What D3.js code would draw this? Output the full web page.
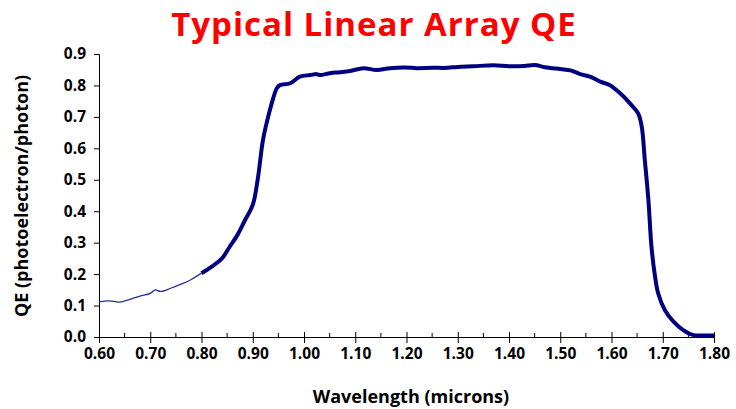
<!DOCTYPE html>
<html>
<head>
  <meta charset="utf-8">
  <title>Typical Linear Array QE</title>
  <script src="https://d3js.org/d3.v7.min.js"></script>
  <style>
    body { margin: 0; background: #fff; }
    svg text { font-family: "Open Sans", "DejaVu Sans", sans-serif; font-weight: bold; }
    .axis path, .axis line { stroke: #000; stroke-width: 1; }
    .axis text { font-size: 15.5px; fill: #000; }
  </style>
</head>
<body>
<div id="chart"></div>
<script>
"use strict"

// valores (comprimento de onda em micra, QE)
var thinWave = [0.60, 0.62, 0.64, 0.66, 0.68, 0.70, 0.71, 0.72, 0.74, 0.76, 0.78, 0.80];
var thinQE   = [0.112, 0.115, 0.111, 0.120, 0.130, 0.139, 0.150, 0.145, 0.155, 0.168, 0.183, 0.203];

var thickWave = [0.80, 0.82, 0.84, 0.855, 0.87, 0.885, 0.90, 0.91, 0.92, 0.93, 0.94, 0.947, 0.953,
                 0.973, 0.992, 1.012, 1.025, 1.031, 1.051, 1.07, 1.09, 1.116, 1.142, 1.168, 1.197,
                 1.22, 1.25, 1.28, 1.30, 1.33, 1.37, 1.40, 1.43, 1.45, 1.47, 1.50, 1.52, 1.539,
                 1.558, 1.578, 1.597, 1.617, 1.636, 1.652, 1.659, 1.665, 1.672, 1.678, 1.685, 1.691,
                 1.704, 1.721, 1.74, 1.76, 1.78, 1.80];
var thickQE   = [0.203, 0.224, 0.250, 0.287, 0.324, 0.372, 0.420, 0.505, 0.627, 0.700, 0.760, 0.791, 0.801,
                 0.807, 0.828, 0.833, 0.836, 0.833, 0.839, 0.842, 0.846, 0.855, 0.849, 0.855, 0.857,
                 0.855, 0.856, 0.856, 0.859, 0.861, 0.864, 0.861, 0.862, 0.865, 0.858, 0.852, 0.848, 0.836,
                 0.828, 0.812, 0.801, 0.775, 0.743, 0.711, 0.669, 0.563, 0.436, 0.287, 0.192, 0.139,
                 0.086, 0.049, 0.022, 0.006, 0.005, 0.005];

var xTicks = [0.60, 0.70, 0.80, 0.90, 1.00, 1.10, 1.20, 1.30, 1.40, 1.50, 1.60, 1.70, 1.80];
var xMinorTicks = [0.65, 0.75, 0.85, 0.95, 1.05, 1.15, 1.25, 1.35, 1.45, 1.55, 1.65, 1.75];
var yTicks = [0.0, 0.1, 0.2, 0.3, 0.4, 0.5, 0.6, 0.7, 0.8, 0.9];

var larguraSVG = 736, alturaSVG = 409;
var margin = {top: 54, right: 22, bottom: 72, left: 99},
    larguraVis = larguraSVG - margin.left - margin.right,
    alturaVis = alturaSVG - margin.top - margin.bottom;

var svg = d3.select('#chart').append('svg')
    .attr('width', larguraSVG)
    .attr('height', alturaSVG);

var g = svg.append('g')
    .attr('transform', 'translate(' + margin.left + ',' + margin.top + ')');

var x = d3.scaleLinear().domain([0.6, 1.8]).range([0, larguraVis]);
var y = d3.scaleLinear().domain([0, 0.9]).range([alturaVis, 0]);

// titulo
svg.append('text')
    .attr('x', 374).attr('y', 36)
    .attr('text-anchor', 'middle')
    .style('font-size', '33px')
    .style('letter-spacing', '1px')
    .style('fill', '#ff0000')
    .text('Typical Linear Array QE');

// eixo y
g.append('g').attr('class', 'axis')
    .call(d3.axisLeft(y).tickValues(yTicks).tickFormat(d3.format('.1f')).tickSizeOuter(0).tickSize(5).tickPadding(8));

// eixo x: ticks maiores cruzam o eixo, menores para dentro
var xAxis = g.append('g').attr('class', 'axis')
    .attr('transform', 'translate(0,' + alturaVis + ')')
    .call(d3.axisBottom(x).tickValues(xTicks).tickFormat(d3.format('.2f')).tickSizeOuter(0).tickSize(6).tickPadding(5));
xAxis.selectAll('.tick line').attr('y1', -5);

g.append('g').selectAll('line')
    .data(xMinorTicks)
    .enter().append('line')
    .attr('x1', d => x(d)).attr('x2', d => x(d))
    .attr('y1', alturaVis - 4).attr('y2', alturaVis)
    .attr('stroke', '#000');

// curvas
var linha = d3.line()
    .x(d => x(d[0]))
    .y(d => y(d[1]))
    .curve(d3.curveCatmullRom);

g.append('path')
    .datum(d3.zip(thinWave, thinQE))
    .attr('fill', 'none')
    .attr('stroke', '#2a2a9a')
    .attr('stroke-width', 1.3)
    .attr('d', linha);

g.append('path')
    .datum(d3.zip(thickWave, thickQE))
    .attr('fill', 'none')
    .attr('stroke', '#000080')
    .attr('stroke-width', 4)
    .attr('stroke-linejoin', 'round')
    .attr('d', linha);

// titulos dos eixos
svg.append('text')
    .attr('x', 411).attr('y', 403)
    .attr('text-anchor', 'middle')
    .style('font-size', '18px')
    .text('Wavelength (microns)');

svg.append('text')
    .attr('transform', 'translate(28,196) rotate(-90)')
    .attr('text-anchor', 'middle')
    .style('font-size', '18px')
    .text('QE (photoelectron/photon)');
</script>
</body>
</html>
